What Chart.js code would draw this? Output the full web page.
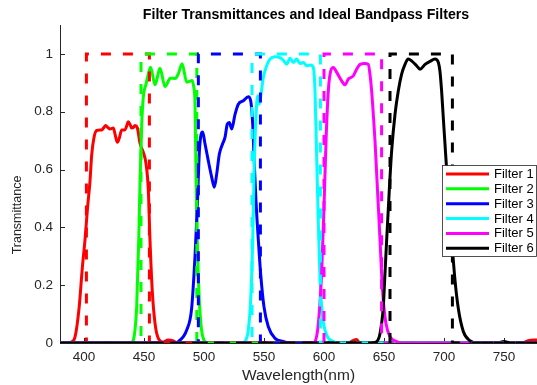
<!DOCTYPE html>
<html lang="en">
<head>
  <meta charset="UTF-8">
  <title>Filter Transmittances and Ideal Bandpass Filters</title>
  <script src="https://cdn.jsdelivr.net/npm/chart.js"></script>
  <style>
    html, body { margin: 0; padding: 0; background: #fff; }
    canvas { display: block; }
  </style>
</head>
<body>
  <canvas id="chartFilter" width="537" height="385"></canvas>

  <script>
    // measured filter curves (wavelength nm / transmittance)
    const f1Wl = [380, 388, 390, 392.5, 396, 398.6, 400.8, 403, 405, 406.4, 408.3, 410.6, 414.7, 416.5, 418, 420, 421.7, 424.4, 426, 427.8, 429.5, 431.4, 434.2, 435.5, 436.9, 438.5, 439.7, 441, 442.5, 444.4, 446.7, 449.4, 451.7, 453.6, 455, 456.9, 459.2, 461.9, 466, 470, 474, 478, 620, 624, 627, 630, 765, 770, 775, 777.5];
    const f1T  = [0, 0, 0.005, 0.02, 0.125, 0.26, 0.355, 0.47, 0.56, 0.65, 0.71, 0.735, 0.737, 0.745, 0.752, 0.745, 0.74, 0.744, 0.72, 0.694, 0.71, 0.737, 0.737, 0.75, 0.765, 0.755, 0.744, 0.745, 0.752, 0.745, 0.69, 0.66, 0.62, 0.53, 0.355, 0.18, 0.068, 0.016, 0.003, 0.01, 0.008, 0, 0, 0.008, 0.012, 0, 0, 0.008, 0.01, 0.01];

    const f2Wl = [380, 438, 440.6, 442.5, 443.9, 445.6, 446.7, 448.1, 449.4, 451.7, 453.6, 455.5, 459.2, 463.3, 467.5, 472, 476, 478.5, 481.8, 485.6, 488, 490, 491.5, 492.5, 493.3, 494.4, 496.1, 498, 500.8, 505, 777.5];
    const f2T  = [0, 0, 0.005, 0.045, 0.125, 0.355, 0.56, 0.757, 0.85, 0.896, 0.93, 0.954, 0.893, 0.95, 0.887, 0.916, 0.915, 0.93, 0.966, 0.902, 0.905, 0.908, 0.885, 0.83, 0.6, 0.355, 0.148, 0.045, 0.005, 0, 0];

    const f3Wl = [380, 476, 478.6, 485.6, 489.7, 492.5, 494.4, 496.1, 497.5, 498.9, 500.8, 503.6, 506.4, 508.6, 510.6, 512.8, 515.6, 517.5, 519.4, 521.1, 523.1, 525.8, 528.6, 532.8, 536.9, 538.9, 540.6, 541.7, 543.3, 545.3, 547.2, 550, 553.6, 559.2, 566.1, 572, 777.5];
    const f3T  = [0, 0, 0.005, 0.045, 0.12, 0.3, 0.47, 0.66, 0.72, 0.73, 0.69, 0.63, 0.574, 0.539, 0.585, 0.654, 0.69, 0.711, 0.757, 0.763, 0.74, 0.79, 0.826, 0.838, 0.852, 0.838, 0.757, 0.643, 0.493, 0.355, 0.24, 0.125, 0.056, 0.016, 0.005, 0, 0];

    const f4Wl = [380, 532, 534.2, 536.9, 538.9, 540.6, 541.7, 543.3, 544.7, 546.1, 547.5, 549.4, 552.2, 555, 559.2, 563.3, 566.1, 568.9, 571.7, 574.4, 577.2, 580, 582.8, 585.6, 588.9, 591.1, 592.5, 593.9, 595.3, 596.7, 598.9, 602.2, 607.8, 612, 777.5];
    const f4T  = [0, 0, 0.005, 0.045, 0.15, 0.355, 0.585, 0.78, 0.855, 0.826, 0.86, 0.918, 0.959, 0.982, 0.99, 0.987, 0.978, 0.964, 0.985, 0.97, 0.982, 0.967, 0.97, 0.959, 0.962, 0.953, 0.872, 0.643, 0.413, 0.217, 0.09, 0.028, 0.005, 0, 0];

    const f5Wl = [380, 590, 592.5, 595.3, 598, 600, 601.7, 603.6, 605.6, 607.8, 610.6, 614.7, 617.5, 620.3, 624.4, 627.2, 630, 634.1, 636.9, 638.3, 639.7, 641.1, 642.5, 643.9, 645.3, 646.7, 648, 649.4, 651.6, 655, 660.5, 665, 777.5];
    const f5T  = [0, 0, 0.005, 0.068, 0.24, 0.47, 0.7, 0.872, 0.941, 0.953, 0.936, 0.907, 0.893, 0.913, 0.924, 0.947, 0.964, 0.967, 0.964, 0.93, 0.872, 0.79, 0.7, 0.585, 0.47, 0.355, 0.24, 0.148, 0.068, 0.022, 0.005, 0, 0];

    const f6Wl = [380, 640, 643.9, 646.7, 649.4, 650.8, 652.2, 654.4, 656.4, 659.2, 661.9, 664.7, 667.5, 670.2, 673, 677.2, 680, 684.2, 688.3, 692.5, 695.3, 696.6, 698, 699.4, 700.8, 702.2, 703.6, 706.4, 709.1, 711.9, 716.1, 721.6, 728, 745, 750, 755, 777.5];
    const f6T  = [0, 0, 0.005, 0.033, 0.125, 0.24, 0.355, 0.528, 0.666, 0.792, 0.872, 0.93, 0.964, 0.982, 0.976, 0.959, 0.947, 0.964, 0.974, 0.982, 0.97, 0.941, 0.872, 0.78, 0.69, 0.6, 0.52, 0.36, 0.22, 0.12, 0.04, 0.008, 0, 0, 0.005, 0, 0];

    // ideal bandpass edges (nm)
    const bandLo = [402, 447.5, 495.3, 540, 600, 655];
    const bandHi = [454.5, 494, 547, 597, 648, 707];

    const legendLabels = ['Filter 1', 'Filter 2', 'Filter 3', 'Filter 4', 'Filter 5', 'Filter 6'];
    const xTicks = [400, 450, 500, 550, 600, 650, 700, 750];
    const yTicks = [0, 0.2, 0.4, 0.6, 0.8, 1];
    const xRange = [380, 777.5];
    const yRange = [0, 1.1];

    const colors = ['#ff0000', '#00ff00', '#0000ff', '#00ffff', '#ff00ff', '#000000'];
    const curves = [[f1Wl, f1T], [f2Wl, f2T], [f3Wl, f3T], [f4Wl, f4T], [f5Wl, f5T], [f6Wl, f6T]];
    const FONT = '"Liberation Sans", Arial, Helvetica, sans-serif';
    const AXIS_COLOR = '#262626';

    const datasets = [];
    // solid measured curves first (lowest layer), matlab plot order
    curves.forEach(([wl, t], i) => {
      datasets.push({
        label: legendLabels[i],
        data: wl.map((w, k) => ({ x: w, y: t[k] })),
        borderColor: colors[i],
        borderWidth: 3,
        pointRadius: 0,
        cubicInterpolationMode: 'monotone',
        fill: false,
        order: 100 - i
      });
    });
    // dashed ideal filters on top
    bandLo.forEach((lo, i) => {
      const hi = bandHi[i];
      datasets.push({
        label: 'Ideal ' + (i + 1),
        data: [
          { x: xRange[0], y: 0 }, { x: lo, y: 0 }, { x: lo, y: 1 },
          { x: hi, y: 1 }, { x: hi, y: 0 }, { x: xRange[1], y: 0 }
        ],
        borderColor: colors[i],
        borderWidth: 3,
        borderDash: [10, 12],
        pointRadius: 0,
        tension: 0,
        fill: false,
        order: 50 - i
      });
    });

    const decor = {
      id: 'decor',
      beforeDatasetsDraw(chart) {
        const { ctx, chartArea: a, scales } = chart;
        ctx.save();
        ctx.strokeStyle = AXIS_COLOR;
        ctx.lineWidth = 1;
        ctx.beginPath();
        xTicks.forEach(v => {
          const px = Math.round(scales.x.getPixelForValue(v)) + 0.5;
          ctx.moveTo(px, a.bottom);
          ctx.lineTo(px, a.bottom - 5);
        });
        yTicks.forEach(v => {
          const py = Math.round(scales.y.getPixelForValue(v)) + 0.5;
          ctx.moveTo(a.left, py);
          ctx.lineTo(a.left + 5, py);
        });
        ctx.stroke();
        ctx.restore();
      },
      afterDraw(chart) {
        const ctx = chart.ctx;
        ctx.save();

        // title
        ctx.fillStyle = '#000';
        ctx.font = 'bold 14.2px ' + FONT;
        ctx.textAlign = 'center';
        ctx.textBaseline = 'middle';
        ctx.fillText('Filter Transmittances and Ideal Bandpass Filters', 306, 15);

        // y axis title
        ctx.save();
        ctx.translate(18, 215);
        ctx.rotate(-Math.PI / 2);
        ctx.fillStyle = AXIS_COLOR;
        ctx.font = '12.5px ' + FONT;
        ctx.fillText('Transmittance', 0, 0);
        ctx.restore();

        // legend box
        const bx = 442.5, by = 165.5, bw = 94, bh = 91;
        ctx.fillStyle = '#fff';
        ctx.fillRect(bx, by, bw, bh);
        ctx.strokeStyle = AXIS_COLOR;
        ctx.lineWidth = 0.8;
        ctx.strokeRect(bx, by, bw, bh);
        ctx.font = '13px ' + FONT;
        ctx.textAlign = 'left';
        legendLabels.forEach((lab, i) => {
          const y = 174 + i * 14.85;
          ctx.strokeStyle = colors[i];
          ctx.lineWidth = 3;
          ctx.beginPath();
          ctx.moveTo(446, y);
          ctx.lineTo(489, y);
          ctx.stroke();
          ctx.fillStyle = '#000';
          ctx.fillText(lab, 494, y + 0.5);
        });
        ctx.restore();
      }
    };

    const ctx = document.getElementById('chartFilter').getContext('2d');
    const chart = new Chart(ctx, {
      type: 'line',
      data: { datasets: datasets },
      plugins: [decor],
      options: {
        responsive: false,
        animation: false,
        devicePixelRatio: 1,
        layout: { padding: { top: 25, left: 0, right: 0, bottom: 0 } },
        plugins: {
          legend: { display: false },
          tooltip: { enabled: false }
        },
        scales: {
          x: {
            type: 'linear',
            min: xRange[0],
            max: xRange[1],
            afterBuildTicks: s => { s.ticks = xTicks.map(v => ({ value: v })); },
            afterFit: s => { s.height = 42; },
            grid: { drawOnChartArea: false, drawTicks: false },
            border: { display: true, color: AXIS_COLOR, width: 1 },
            ticks: {
              autoSkip: false,
              maxRotation: 0,
              padding: 6,
              color: AXIS_COLOR,
              font: { family: FONT, size: 13.5 },
              callback: v => String(v)
            },
            title: {
              display: true,
              text: 'Wavelength(nm)',
              color: AXIS_COLOR,
              font: { family: FONT, size: 15.5 },
              padding: { top: 0, bottom: 0 }
            }
          },
          y: {
            min: yRange[0],
            max: yRange[1],
            afterBuildTicks: s => { s.ticks = yTicks.map(v => ({ value: v })); },
            afterFit: s => { s.width = 60; },
            grid: { drawOnChartArea: false, drawTicks: false },
            border: { display: true, color: AXIS_COLOR, width: 1 },
            ticks: {
              padding: 7,
              color: AXIS_COLOR,
              font: { family: FONT, size: 13.5 },
              callback: v => String(v)
            }
          }
        }
      }
    });
  </script>
</body>
</html>
